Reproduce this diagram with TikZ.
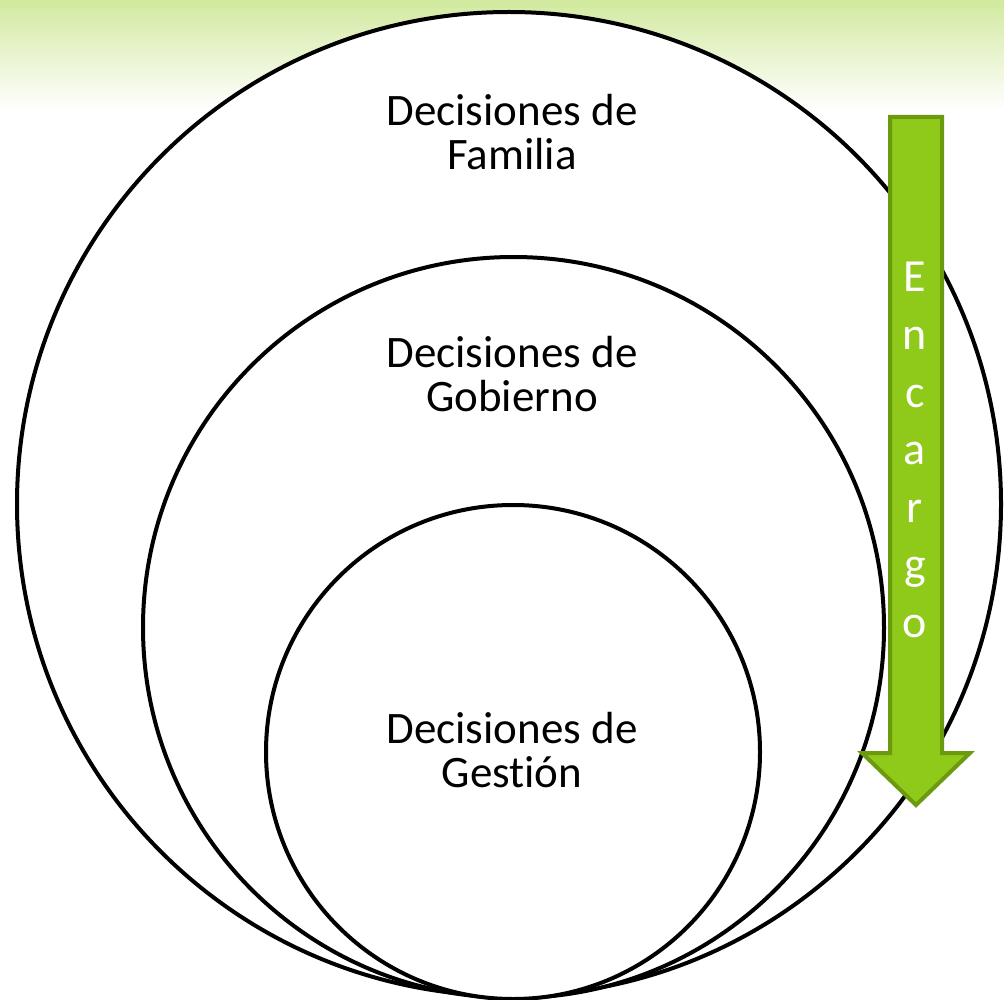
\documentclass[tikz,border=0pt]{standalone}
\usepackage{fontspec}
\setmainfont[Ligatures=NoCommon]{Carlito}
\definecolor{arrowfill}{RGB}{143,201,26}
\definecolor{arrowline}{RGB}{107,154,14}
\definecolor{topgreen}{RGB}{210,233,160}
\begin{document}
\begin{tikzpicture}[x=1pt,y=-1pt,
  ring/.style={draw=black,line width=4pt,fill=white},
  label/.style={align=center,font=\fontsize{45}{44}\selectfont,text=black,inner sep=0pt},
  letter/.style={anchor=base,font=\fontsize{46}{46}\selectfont,text=white,inner sep=0pt}]
\useasboundingbox (0,0) rectangle (1004,1000);
\shade[top color=topgreen,bottom color=white] (0,0) rectangle (1004,110);
\fill[topgreen] (0,0) rectangle (1004,8);
% circles
\draw[ring] (509,504) circle (492);
\draw[ring] (513.5,627.5) circle (370.5);
\draw[ring] (513,752) circle (247);
% labels
\node[label] (fam) at (512,132) {Decisiones de\\Familia};
\node[label] (gob) at (512,374) {Decisiones de\\Gobierno};
\node[label] (ges) at (512,750) {Decisiones de\\Gestión};
% arrow
\draw[fill=arrowfill,draw=arrowline,line width=4pt,line join=miter]
  (890,117) -- (942,117) -- (942,753) -- (970,753) -- (916,805) -- (862,753) -- (890,753) -- cycle;
\foreach \c [count=\i from 0] in {E,n,c,a,r,g,o}{
  \node[letter] (l\i) at (915,{292+57.5*\i}) {\c};
}
\end{tikzpicture}
\end{document}
